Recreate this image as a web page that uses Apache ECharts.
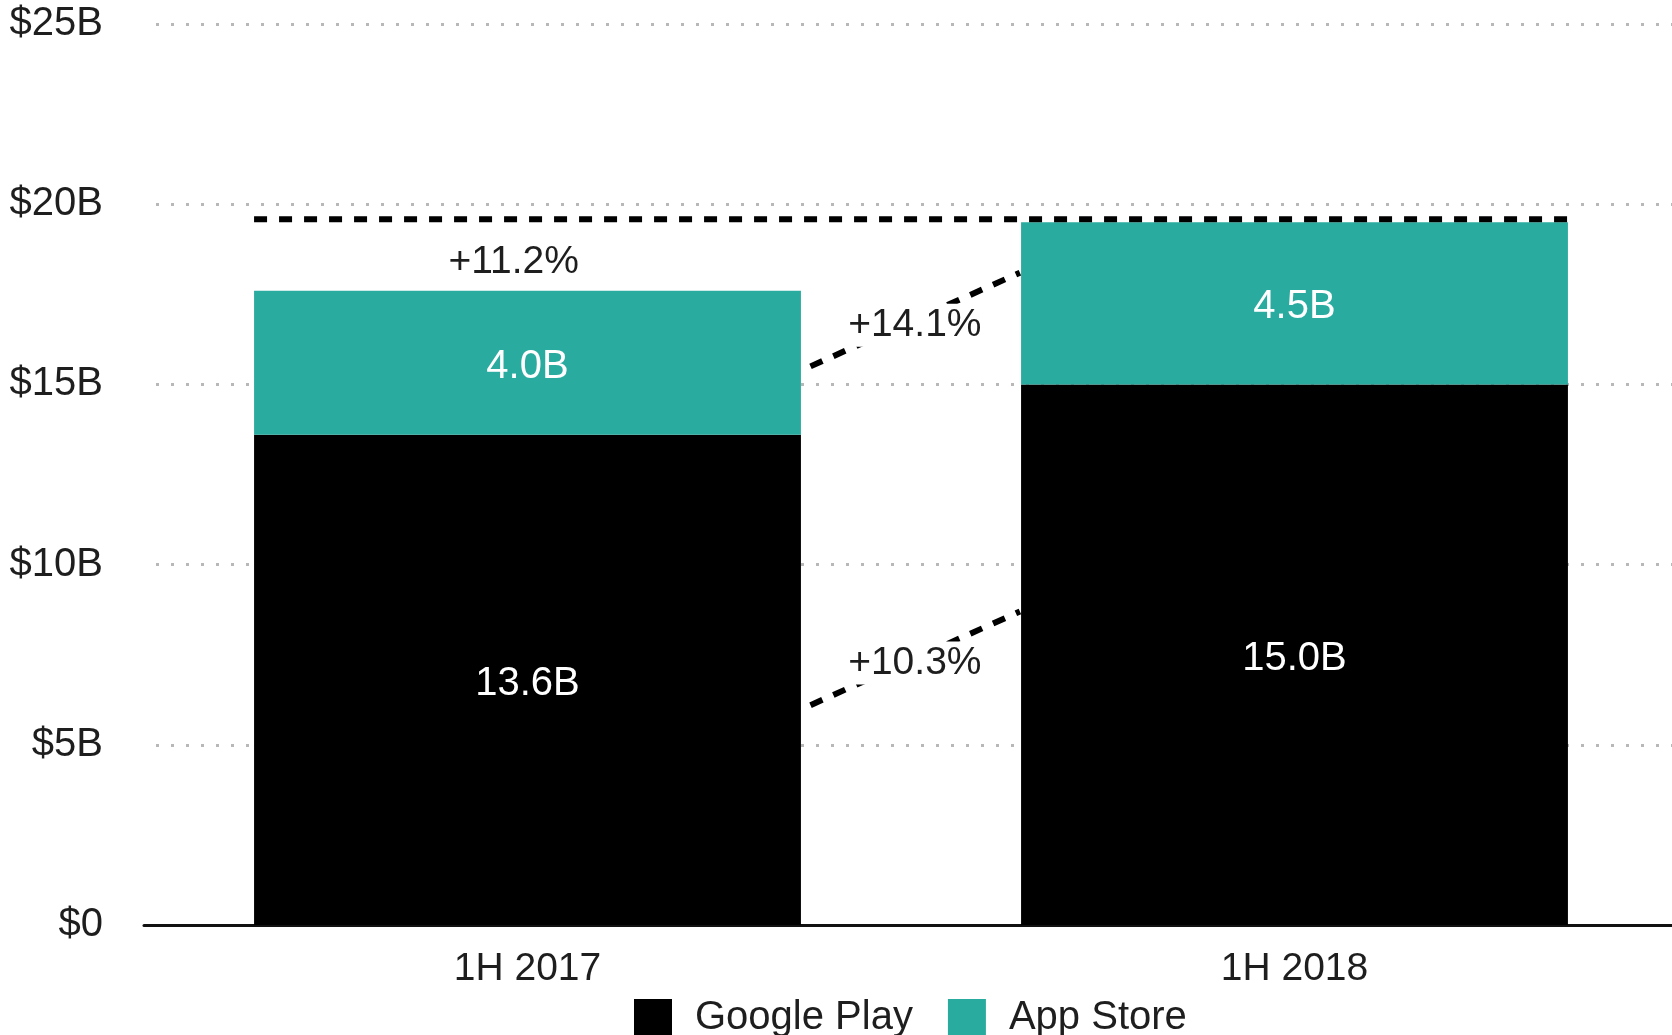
<!DOCTYPE html>
<html>
<head>
<meta charset="utf-8">
<script src="https://cdn.jsdelivr.net/npm/echarts@6/dist/echarts.min.js"></script>
<style>html,body{margin:0;padding:0;background:#fff;overflow:hidden}#c{width:1672px;height:1035px}</style>
</head>
<body>
<div id="c"></div>
<script>
// ---- data ----
var categories = ['1H 2017', '1H 2018'];
var googlePlay = [13.6, 15.0];
var appStore = [4.0, 4.5];
var yTicks = [0, 5, 10, 15, 20, 25];
// connector lines [x (category position, 0..2), y (value, $B)]
var topDashLine = [[0.1435, 19.58], [1.8565, 19.58]];
var appStoreConnector = [[0.869, 15.5], [1.142, 18.1]];
var googleConnector = [[0.869, 6.1], [1.142, 8.7]];
// growth annotations
var growthLabels = ['+11.2%', '+14.1%', '+10.3%'];
var growthX = [0.482, 1.005, 1.005];
var growthY = [18.4, 16.64, 7.27];

var FONT = "'Liberation Sans', Arial, Helvetica, sans-serif";
var TEXT = '#1e1e1e';
var TEAL = '#2aab9f';

var chart = echarts.init(document.getElementById('c'));
var dashStyle = { color: '#000', width: 6, type: [13, 12] };
function connector(name, data) {
  return {
    name: name, type: 'line', xAxisIndex: 1, yAxisIndex: 0,
    data: data, symbol: 'none', z: 5, silent: true,
    lineStyle: dashStyle
  };
}
var annData = growthLabels.map(function (t, i) { return { name: t, value: [growthX[i], growthY[i]] }; });
var barLabel = {
  show: true, position: 'inside', color: '#fff', fontSize: 40, fontFamily: FONT, offset: [0, 4],
  formatter: function (p) { return p.value.toFixed(1) + 'B'; }
};

chart.setOption({
  animation: false,
  textStyle: { fontFamily: FONT },
  grid: { left: 144, width: 1534, top: 24, bottom: 110, containLabel: false, outerBoundsMode: 'none' },
  legend: {
    data: ['Google Play', 'App Store'],
    left: 629, top: 993,
    icon: 'rect', itemWidth: 38, itemHeight: 38, itemGap: 35,
    textStyle: { fontSize: 40, color: TEXT, fontFamily: FONT, padding: [0, 0, 0, 18] }
  },
  xAxis: [
    {
      type: 'category', data: categories,
      axisLine: { show: true, lineStyle: { color: '#111', width: 3 } },
      axisTick: { show: false },
      axisLabel: { fontSize: 39, color: TEXT, margin: 25, fontFamily: FONT }
    },
    { type: 'value', min: 0, max: 2, show: false }
  ],
  yAxis: {
    type: 'value', min: yTicks[0], max: yTicks[yTicks.length - 1], interval: 5,
    axisLine: { show: false }, axisTick: { show: false },
    axisLabel: {
      fontSize: 40, color: TEXT, margin: 41, fontFamily: FONT, padding: [5, 0, 0, 0],
      formatter: function (v) { return v === 0 ? '$0' : '$' + v + 'B'; }
    },
    splitLine: { show: true, lineStyle: { color: '#b8b8b8', width: 3, type: [3, 12], dashOffset: 3 } }
  },
  series: [
    {
      name: 'Google Play', type: 'bar', stack: 'total', data: googlePlay,
      barWidth: '71.3%', itemStyle: { color: '#000' }, label: barLabel
    },
    {
      name: 'App Store', type: 'bar', stack: 'total', data: appStore,
      barWidth: '71.3%', itemStyle: { color: TEAL }, label: barLabel
    },
    connector('top', topDashLine),
    connector('appConn', appStoreConnector),
    connector('gpConn', googleConnector),
    {
      name: 'growth', type: 'scatter', xAxisIndex: 1, yAxisIndex: 0,
      symbolSize: 0, data: annData, z: 6, silent: true,
      itemStyle: { opacity: 1 },
      label: { show: true, position: 'inside', color: TEXT, fontSize: 39, fontFamily: FONT,
        backgroundColor: '#fff', padding: [4, 6, 0, 6],
        formatter: function (p) { return p.name; } }
    }
  ]
});
</script>
</body>
</html>
